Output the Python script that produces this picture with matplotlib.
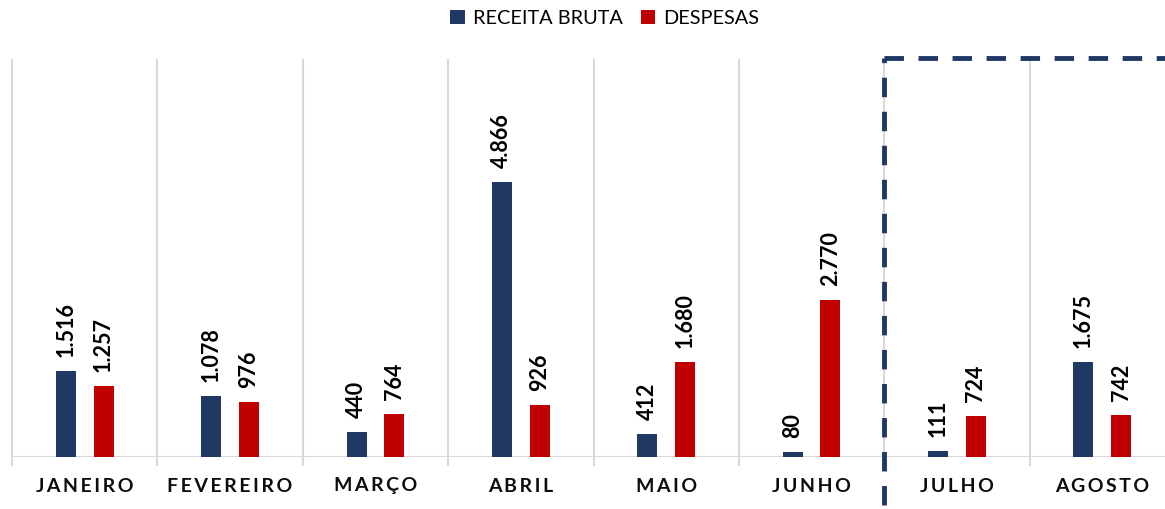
import matplotlib

matplotlib.use("Agg")
import matplotlib.pyplot as plt
import numpy as np

months = ["JANEIRO", "FEVEREIRO", "MARÇO", "ABRIL", "MAIO", "JUNHO", "JULHO", "AGOSTO"]
receita = [1516, 1078, 440, 4866, 412, 80, 111, 1675]
despesas = [1257, 976, 764, 926, 1680, 2770, 724, 742]

NAVY = "#203864"
RED = "#C00000"
GRID = "#d9d9d9"

plt.rcParams["font.family"] = ["Lato", "DejaVu Sans"]

W, H = 1165, 509
fig = plt.figure(figsize=(W / 100, H / 100), dpi=100)
# plot area in pixels: x 12..1175 (runs past the right edge), y 60..457
left, right, top, bottom = 12, 1175, 60, 457
ax = fig.add_axes([left / W, 1 - bottom / H, (right - left) / W, (bottom - top) / H])

ymax = 7020
ax.set_xlim(0, len(months))
ax.set_ylim(0, ymax)

x = np.arange(len(months)) + 0.5
w = 0.1375
off = 0.13
ax.bar(x - off, receita, w, color=NAVY, label="RECEITA BRUTA", zorder=3)
ax.bar(x + off, despesas, w, color=RED, label="DESPESAS", zorder=3)


def fmt(v):
    return f"{v:,}".replace(",", ".")


px = ymax / (bottom - top)
for xs, vals in ((x - off, receita), (x + off, despesas)):
    for xi, v in zip(xs, vals):
        ax.text(xi, v + 14 * px, fmt(v), rotation=90, ha="center", va="bottom",
                fontsize=15.5, fontweight="bold", color="#000000", zorder=4)

# category separators + axis line
for e in range(len(months) + 1):
    ax.plot([e, e], [-8 * px, ymax], color=GRID, lw=1.5, clip_on=False, zorder=1)
ax.axhline(0, color=GRID, lw=1.5, zorder=2)

for xi, m in zip(x, months):
    ax.text(xi, -29 * px, "\u2009".join(m), ha="center", va="center",
            fontsize=14, fontweight="bold", color="#0d0d0d")

# dashed box around the last two months
ax.plot([6, 6], [-48 * px, ymax + 2 * px], color=NAVY, lw=3.5, ls=(0, (4, 3)),
        clip_on=False, zorder=5)
ax.plot([6, 8], [ymax + 2 * px, ymax + 2 * px], color=NAVY, lw=3.5, ls=(0, (4, 3)),
        clip_on=False, zorder=5)

ax.set_xticks([])
ax.set_yticks([])
for s in ax.spines.values():
    s.set_visible(False)

fig.legend(loc="upper center", bbox_to_anchor=(0.519, 1.0), ncol=2, frameon=False,
           fontsize=14.3, handlelength=0.75, handleheight=0.75, handletextpad=0.4,
           columnspacing=0.9, borderaxespad=0.1)

fig.savefig("out.png", dpi=100)
